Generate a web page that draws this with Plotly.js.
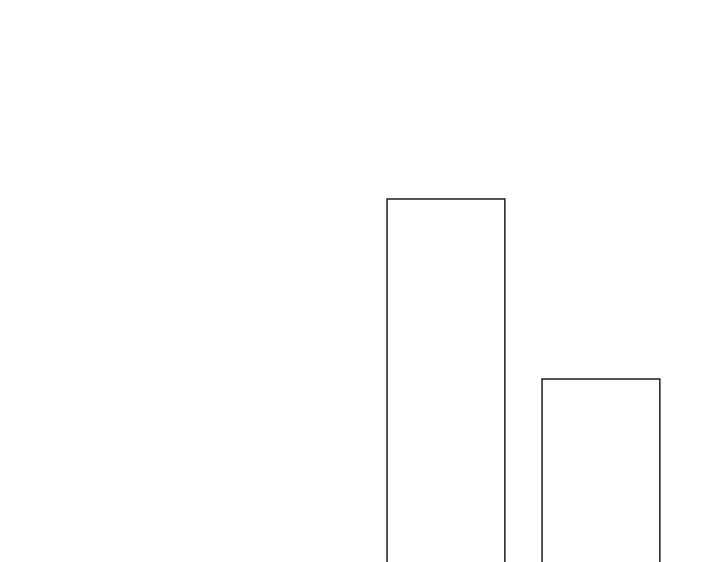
<!DOCTYPE html>
<html>
<head>
<meta charset="utf-8">
<script src="https://cdn.plot.ly/plotly-3.0.1.min.js"></script>
<style>
  html, body { margin: 0; padding: 0; background: #fff; }
  #chart { width: 720px; height: 562px; }
</style>
</head>
<body>
<div id="chart"></div>
<script>
// two outlined bars, the rest of the chart is cropped out of view
const barPositions = [0, 1];
const barValues = [8, 5];

const trace = {
  x: barPositions,
  y: barValues,
  type: "bar",
  width: 0.76,
  marker: { color: "#ffffff", line: { color: "#1f1f1f", width: 1.5 } },
  hoverinfo: "none",
};

const hiddenAxis = { visible: false, showgrid: false, zeroline: false, fixedrange: true };

const layout = {
  width: 720,
  height: 562,
  margin: { l: 0, r: 0, t: 0, b: 0 },
  paper_bgcolor: "#ffffff",
  plot_bgcolor: "#ffffff",
  showlegend: false,
  xaxis: { ...hiddenAxis, range: [-2.877, 1.768] },
  yaxis: { ...hiddenAxis, range: [1.95, 11.3167] },
};

Plotly.newPlot("chart", [trace], layout, { displayModeBar: false, staticPlot: true });
</script>
</body>
</html>
